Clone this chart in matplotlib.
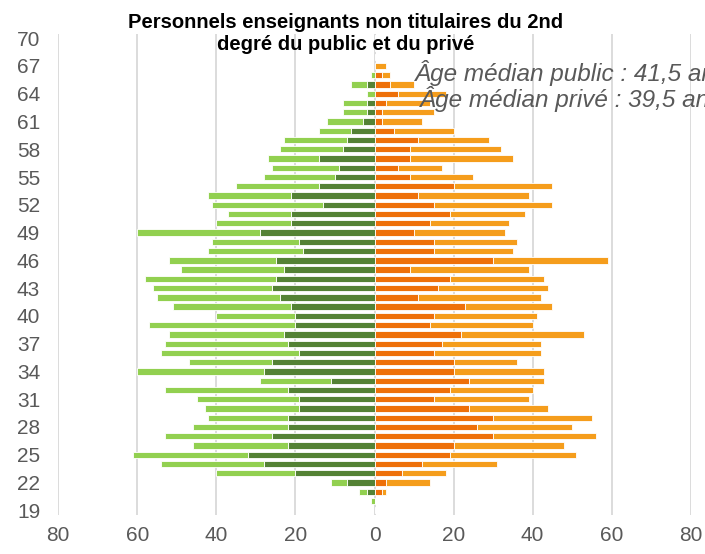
import matplotlib
matplotlib.use("Agg")
import matplotlib.pyplot as plt
import numpy as np

plt.rcParams['font.family'] = ['Liberation Sans', 'DejaVu Sans']

ages = list(range(19, 71))

# Left side (green): dark = inner segment, light = outer segment
left_dark = [0, 0, 2, 7, 20, 28, 32, 22, 26, 22, 22, 19, 19, 22, 11, 28, 26, 19, 22, 23,
             20, 20, 21, 24, 26, 25, 23, 25, 18, 19, 29, 21, 21, 13, 21, 14, 10, 9, 14, 8,
             7, 6, 3, 2, 2, 0, 2, 0, 0, 0, 0, 0]
left_light = [0, 1, 2, 4, 20, 26, 29, 24, 27, 24, 20, 24, 26, 31, 18, 32, 21, 35, 31, 29,
              37, 20, 30, 31, 30, 33, 26, 27, 24, 22, 31, 19, 16, 28, 21, 21, 18, 17, 13, 16,
              16, 8, 9, 6, 6, 2, 4, 1, 0, 0, 0, 0]
# Right side (orange)
right_dark = [0, 0, 2, 3, 7, 12, 19, 20, 30, 26, 30, 24, 15, 19, 24, 20, 20, 15, 17, 22,
              14, 15, 23, 11, 16, 19, 9, 30, 15, 15, 10, 14, 19, 15, 11, 20, 9, 6, 9, 9,
              11, 5, 2, 2, 3, 6, 4, 2, 0, 0, 0, 0]
right_light = [0, 0, 1, 11, 11, 19, 32, 28, 26, 24, 25, 20, 24, 21, 19, 23, 16, 27, 25, 31,
               26, 26, 22, 31, 28, 24, 30, 29, 20, 21, 23, 20, 19, 30, 28, 25, 16, 11, 26, 23,
               18, 15, 10, 13, 11, 12, 6, 2, 3, 0, 0, 0]

title = "Personnels enseignants non titulaires du 2nd\ndegré du public et du privé"
note_public = "Âge médian public : 41,5 ans"
note_prive = "Âge médian privé : 39,5 ans"
x_ticks = [-80, -60, -40, -20, 0, 20, 40, 60, 80]
y_ticks = list(range(19, 71, 3))

c_dark_green = "#548235"
c_light_green = "#92D050"
c_dark_orange = "#EE7009"
c_light_orange = "#F59D1C"
grey_txt = "#595959"

fig = plt.figure(figsize=(7.05, 5.54), dpi=100)
ax = fig.add_axes([58.3 / 705, (554 - 514.9) / 554, 632.4 / 705, (514.9 - 33.6) / 554])

y = np.array(ages)
ld = -np.array(left_dark)
ll = -np.array(left_light)
rd = np.array(right_dark)
rl = np.array(right_light)
h = 0.68
ekw = dict(edgecolor="white", linewidth=0.6, zorder=3)
ax.barh(y, ld, height=h, color=c_dark_green, **ekw)
ax.barh(y, ll, left=ld, height=h, color=c_light_green, **ekw)
ax.barh(y, rd, height=h, color=c_dark_orange, **ekw)
ax.barh(y, rl, left=rd, height=h, color=c_light_orange, **ekw)

ax.set_xlim(-80, 80)
ax.set_ylim(18.5, 70.5)
ax.set_xticks(x_ticks)
ax.set_xticklabels([str(abs(v)) for v in x_ticks])
ax.set_yticks(y_ticks)
ax.set_yticklabels([str(v) for v in y_ticks])
ax.tick_params(axis='both', length=0, labelsize=15, colors=grey_txt)
ax.tick_params(axis='x', pad=8)
ax.tick_params(axis='y', pad=13)
for s in ax.spines.values():
    s.set_visible(False)
ax.xaxis.grid(True, color="#D9D9D9", linewidth=1.3, zorder=0)
ax.set_axisbelow(True)

fig.text(346 / 705, 1 - 33 / 554, title, ha="center", va="center", fontsize=14.5,
         fontweight="bold", color="black", linespacing=1.2)
fig.text(415 / 705, 1 - 81 / 554, note_public, ha="left", va="baseline", fontsize=17.5,
         style="italic", color=grey_txt)
fig.text(420 / 705, 1 - 107 / 554, note_prive, ha="left", va="baseline", fontsize=17.5,
         style="italic", color=grey_txt)

fig.savefig("out.png", dpi=100)
